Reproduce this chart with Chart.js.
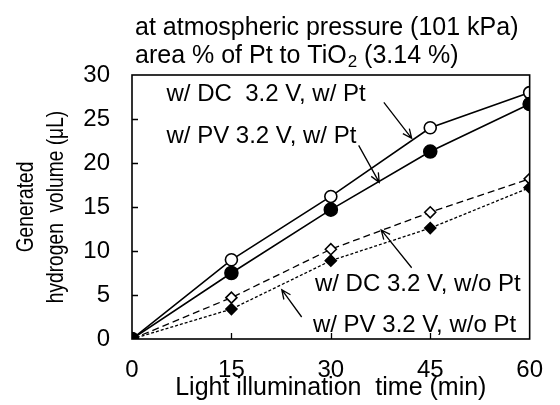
<!DOCTYPE html>
<html><head><meta charset="utf-8">
<script src="https://cdn.jsdelivr.net/npm/chart.js@4/dist/chart.umd.min.js"></script>
<style>html,body{margin:0;padding:0;background:#fff;}canvas{display:block;}</style>
</head><body>
<canvas id="c" width="560" height="405"></canvas>
<script>
const times = [0, 15, 30, 45, 60];
const dcWithPt = [0, 9.0, 16.2, 24.0, 28.0];
const pvWithPt = [0, 7.5, 14.7, 21.3, 26.7];
const dcWithoutPt = [0, 4.7, 10.2, 14.4, 18.2];
const pvWithoutPt = [0, 3.4, 8.9, 12.6, 17.2];
const xTicks = [0, 15, 30, 45, 60];
const yTicks = [0, 5, 10, 15, 20, 25, 30];
const seriesLabels = ['w/ DC  3.2 V, w/ Pt', 'w/ PV 3.2 V, w/ Pt', 'w/ DC 3.2 V, w/o Pt', 'w/ PV 3.2 V, w/o Pt'];
const titleLine1 = 'at atmospheric pressure (101 kPa)';
const titleLine2 = ['area % of Pt to TiO', '2', ' (3.14 %)'];
const xTitle = 'Light illumination  time (min)';
const yTitle = ['Generated', 'hydrogen  volume (\u03BCL)'];
// annotation anchors in data units (minutes, µL)
const labelAnchors = [[5.2, 27.0], [5.2, 22.3], [27.6, 5.4], [27.3, 0.85]];
const arrowFrom = [[38.0, 26.9], [34.2, 22.0], [42.2, 8.1], [25.6, 2.5]];
const arrowTo = [[42.2, 22.8], [37.3, 17.8], [37.6, 12.4], [22.6, 5.6]];

const FONT = "'Liberation Sans', Arial, sans-serif";

function pts(arr) { return times.map((t, i) => ({x: t, y: arr[i]})); }

const overlay = {
  id: 'overlay',
  afterDatasetsDraw(chart) {
    const {ctx, chartArea: a, scales: {x, y}} = chart;
    ctx.save();
    ctx.strokeStyle = '#000';
    ctx.lineWidth = 1.6;
    ctx.strokeRect(a.left, a.top, a.right - a.left, a.bottom - a.top);
    ctx.lineWidth = 1.3;
    ctx.beginPath();
    yTicks.slice(1, -1).forEach(v => {
      const py = Math.round(y.getPixelForValue(v)) + 0.5;
      ctx.moveTo(a.left, py); ctx.lineTo(a.left + 6, py);
    });
    xTicks.slice(1, -1).forEach(v => {
      const px = Math.round(x.getPixelForValue(v)) + 0.5;
      ctx.moveTo(px, a.bottom); ctx.lineTo(px, a.bottom - 6);
    });
    ctx.stroke();
    // labels
    ctx.fillStyle = '#000';
    ctx.font = '24px ' + FONT;
    ctx.textBaseline = 'alphabetic';
    ctx.textAlign = 'left';
    seriesLabels.forEach((s, i) => {
      ctx.fillText(s, x.getPixelForValue(labelAnchors[i][0]), y.getPixelForValue(labelAnchors[i][1]));
    });
    // arrows
    ctx.lineWidth = 1.3;
    arrowFrom.forEach((f, i) => {
      const x0 = x.getPixelForValue(f[0]), y0 = y.getPixelForValue(f[1]);
      const x1 = x.getPixelForValue(arrowTo[i][0]), y1 = y.getPixelForValue(arrowTo[i][1]);
      const ang = Math.atan2(y1 - y0, x1 - x0);
      const L = 10, h = 0.42;
      ctx.beginPath();
      ctx.moveTo(x0, y0); ctx.lineTo(x1, y1);
      ctx.moveTo(x1 - L * Math.cos(ang - h), y1 - L * Math.sin(ang - h));
      ctx.lineTo(x1, y1);
      ctx.lineTo(x1 - L * Math.cos(ang + h), y1 - L * Math.sin(ang + h));
      ctx.stroke();
    });
    // title
    ctx.font = '25px ' + FONT;
    ctx.fillText(titleLine1, 135, 35);
    let tx = 135;
    ctx.fillText(titleLine2[0], tx, 63);
    tx += ctx.measureText(titleLine2[0]).width;
    ctx.font = '17px ' + FONT;
    ctx.fillText(titleLine2[1], tx + 1, 67);
    tx += ctx.measureText(titleLine2[1]).width + 1;
    ctx.font = '25px ' + FONT;
    ctx.fillText(titleLine2[2], tx, 63);
    // y-axis title (condensed, rotated)
    const cy = (a.top + a.bottom) / 2;
    const baseX = [33, 63];
    ctx.font = '24px ' + FONT;
    ctx.textAlign = 'center';
    yTitle.forEach((line, i) => {
      ctx.save();
      ctx.translate(baseX[i], cy);
      ctx.rotate(-Math.PI / 2);
      ctx.scale(0.8, 1);
      ctx.fillText(line, 0, 0);
      ctx.restore();
    });
    ctx.restore();
  }
};

const common = {borderColor: '#000', pointBorderColor: '#000', borderWidth: 1.6, pointBorderWidth: 1.6, fill: false, tension: 0};

new Chart(document.getElementById('c'), {
  type: 'line',
  data: {
    datasets: [
      Object.assign({label: seriesLabels[1], data: pts(pvWithPt), pointStyle: 'circle', pointRadius: 6.5, pointBackgroundColor: '#000'}, common),
      Object.assign({label: seriesLabels[0], data: pts(dcWithPt), pointStyle: 'circle', pointRadius: 6, pointBackgroundColor: '#fff'}, common),
      Object.assign({label: seriesLabels[3], data: pts(pvWithoutPt), pointStyle: 'rectRot', pointRadius: 5.5, pointBackgroundColor: '#000', borderDash: [3, 2]}, common, {borderWidth: 1.3}),
      Object.assign({label: seriesLabels[2], data: pts(dcWithoutPt), pointStyle: 'rectRot', pointRadius: 5.5, pointBackgroundColor: '#fff', borderDash: [7, 4]}, common, {borderWidth: 1.3})
    ]
  },
  options: {
    responsive: false,
    animation: false,
    events: [],
    layout: {padding: {left: 0, top: 75, right: 16, bottom: 0}},
    plugins: {legend: {display: false}, tooltip: {enabled: false}},
    scales: {
      x: {
        type: 'linear', min: 0, max: 60,
        afterBuildTicks: s => { s.ticks = xTicks.map(v => ({value: v})); },
        afterFit: s => { s.height = 66; },
        grid: {display: false, drawTicks: false},
        border: {display: false},
        ticks: {color: '#000', font: {family: FONT, size: 24}, padding: 17, maxRotation: 0, autoSkip: false},
        title: {display: true, text: xTitle, color: '#000', font: {family: FONT, size: 25}, padding: {top: 0, bottom: 2}}
      },
      y: {
        type: 'linear', min: 0, max: 30,
        afterBuildTicks: s => { s.ticks = yTicks.map(v => ({value: v})); },
        afterFit: s => { s.width = 132; },
        grid: {display: false, drawTicks: false},
        border: {display: false},
        ticks: {color: '#000', font: {family: FONT, size: 24}, padding: 22, autoSkip: false},
        title: {display: false}
      }
    }
  },
  plugins: [overlay]
});
</script>
</body></html>
